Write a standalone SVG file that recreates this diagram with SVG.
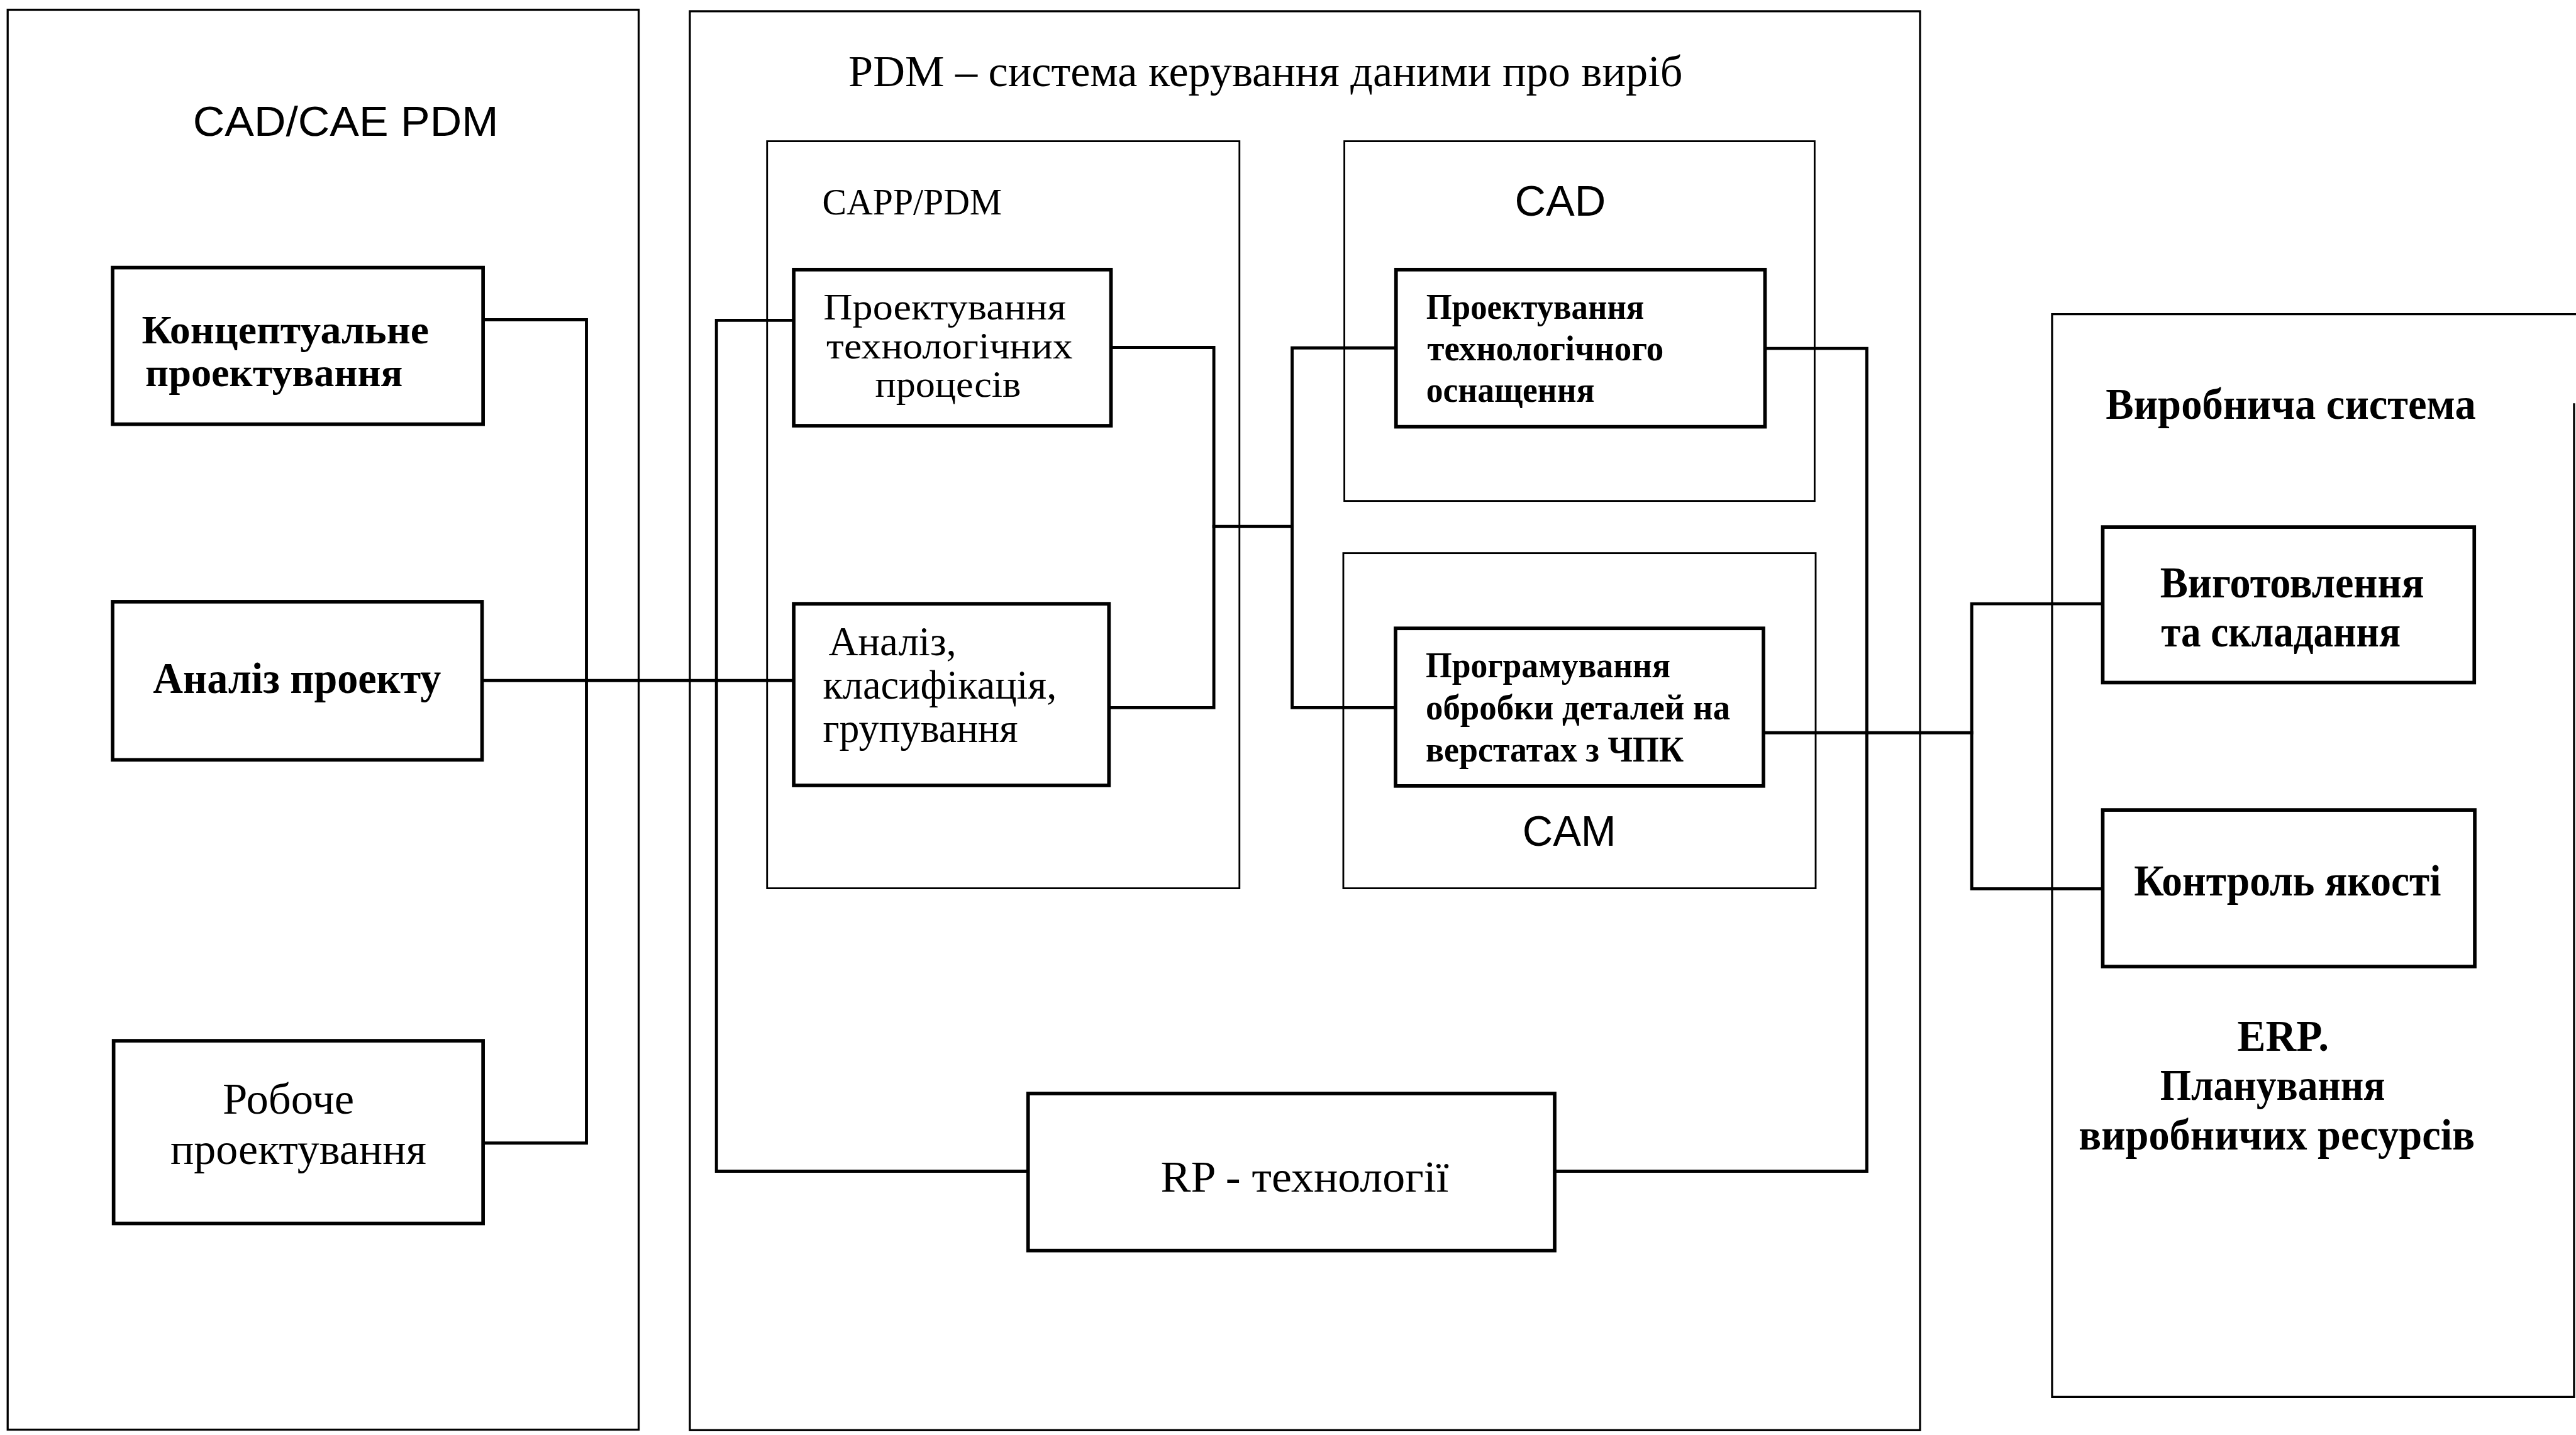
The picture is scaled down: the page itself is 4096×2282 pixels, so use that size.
<svg xmlns="http://www.w3.org/2000/svg" width="4096" height="2282" viewBox="0 0 4096 2282">
<style>
.frame{fill:none;stroke:#000;stroke-width:4}
.sub{fill:none;stroke:#000;stroke-width:3.5}
.node{fill:#fff;stroke:#000;stroke-width:7}
.conn{fill:none;stroke:#000;stroke-width:6;stroke-linejoin:miter;stroke-linecap:square}
.t{font-family:"Liberation Serif","Times New Roman",serif;fill:#000}
.b{font-weight:bold}
.s{font-family:"Liberation Sans",Arial,sans-serif;fill:#000}
</style>
<rect width="4096" height="2282" fill="#fff"/>
<g transform="scale(0.8137)">
  <g id="frame-cad-cae">
    <rect class="frame" x="15" y="19" width="1233" height="2775"/>
    <text class="s" font-size="82" x="377" y="265" textLength="597" lengthAdjust="spacingAndGlyphs">CAD/CAE PDM</text>
  </g>
  <g id="frame-pdm">
    <rect class="frame" x="1348" y="22" width="2404" height="2773"/>
    <text class="t" font-size="86" x="1658" y="169" textLength="1630" lengthAdjust="spacingAndGlyphs">PDM – система керування даними про виріб</text>
  </g>
  <g id="frame-capp">
    <rect class="sub" x="1499" y="276" width="923" height="1460"/>
    <text class="t" font-size="72" x="1607" y="419" textLength="351" lengthAdjust="spacingAndGlyphs">CAPP/PDM</text>
  </g>
  <g id="frame-cad">
    <rect class="sub" x="2627" y="276" width="919" height="703"/>
    <text class="s" font-size="84" x="2960" y="422" textLength="178" lengthAdjust="spacingAndGlyphs">CAD</text>
  </g>
  <g id="frame-cam">
    <rect class="sub" x="2625" y="1081" width="923" height="655"/>
    <text class="s" font-size="84" x="2975" y="1653" textLength="183" lengthAdjust="spacingAndGlyphs">CAM</text>
  </g>
  <g id="frame-production">
    <path class="frame" d="M5034 614 H4010 V2730 H5030 V788"/>
    <text class="t b" font-size="85" x="4115" y="818" textLength="723" lengthAdjust="spacingAndGlyphs">Виробнича система</text>
    <text class="t b" font-size="85" x="4372" y="2053" textLength="179" lengthAdjust="spacingAndGlyphs">ERP.</text>
    <text class="t b" font-size="85" x="4221" y="2149" textLength="440" lengthAdjust="spacingAndGlyphs">Планування</text>
    <text class="t b" font-size="85" x="4062" y="2247" textLength="774" lengthAdjust="spacingAndGlyphs">виробничих ресурсів</text>
  </g>

  <g id="connectors">
    <path class="conn" d="M944 625 H1146 V2234 H944"/>
    <path class="conn" d="M942 1330 H1551"/>
    <path class="conn" d="M1551 626 H1400 V2289 H2009"/>
    <path class="conn" d="M2171 679 H2372 V1383 H2167"/>
    <path class="conn" d="M2372 1029 H2525"/>
    <path class="conn" d="M2728 680 H2525 V1383 H2727"/>
    <path class="conn" d="M3449 681 H3648 V2289 H3038"/>
    <path class="conn" d="M3446 1432 H3853"/>
    <path class="conn" d="M4109 1180 H3853 V1737 H4109"/>
  </g>

  <g id="node-conceptual">
    <rect class="node" x="220" y="523" width="724" height="306"/>
    <text class="t b" font-size="78" x="277" y="671" textLength="561" lengthAdjust="spacingAndGlyphs">Концептуальне</text>
    <text class="t b" font-size="78" x="284" y="755" textLength="503" lengthAdjust="spacingAndGlyphs">проектування</text>
  </g>
  <g id="node-analysis">
    <rect class="node" x="220" y="1176" width="722" height="309"/>
    <text class="t b" font-size="86" x="299" y="1354" textLength="563" lengthAdjust="spacingAndGlyphs">Аналіз проекту</text>
  </g>
  <g id="node-working">
    <rect class="node" x="222" y="2034" width="722" height="357"/>
    <text class="t" font-size="86" x="435" y="2176" textLength="257" lengthAdjust="spacingAndGlyphs">Робоче</text>
    <text class="t" font-size="86" x="333" y="2275" textLength="500" lengthAdjust="spacingAndGlyphs">проектування</text>
  </g>
  <g id="node-process-design">
    <rect class="node" x="1551" y="527" width="620" height="305"/>
    <text class="t" font-size="72" x="1609" y="624" textLength="474" lengthAdjust="spacingAndGlyphs">Проектування</text>
    <text class="t" font-size="72" x="1615" y="700" textLength="481" lengthAdjust="spacingAndGlyphs">технологічних</text>
    <text class="t" font-size="72" x="1710" y="776" textLength="285" lengthAdjust="spacingAndGlyphs">процесів</text>
  </g>
  <g id="node-classification">
    <rect class="node" x="1551" y="1180" width="616" height="355"/>
    <text class="t" font-size="80" x="1619" y="1280" textLength="250" lengthAdjust="spacingAndGlyphs">Аналіз,</text>
    <text class="t" font-size="80" x="1608" y="1365" textLength="457" lengthAdjust="spacingAndGlyphs">класифікація,</text>
    <text class="t" font-size="80" x="1608" y="1450" textLength="381" lengthAdjust="spacingAndGlyphs">групування</text>
  </g>
  <g id="node-tooling">
    <rect class="node" x="2728" y="527" width="721" height="307"/>
    <text class="t b" font-size="71" x="2787" y="623" textLength="426" lengthAdjust="spacingAndGlyphs">Проектування</text>
    <text class="t b" font-size="71" x="2789" y="704" textLength="462" lengthAdjust="spacingAndGlyphs">технологічного</text>
    <text class="t b" font-size="71" x="2787" y="785" textLength="329" lengthAdjust="spacingAndGlyphs">оснащення</text>
  </g>
  <g id="node-cnc">
    <rect class="node" x="2727" y="1228" width="719" height="308"/>
    <text class="t b" font-size="70" x="2786" y="1324" textLength="478" lengthAdjust="spacingAndGlyphs">Програмування</text>
    <text class="t b" font-size="70" x="2786" y="1406" textLength="595" lengthAdjust="spacingAndGlyphs">обробки деталей на</text>
    <text class="t b" font-size="70" x="2786" y="1488" textLength="504" lengthAdjust="spacingAndGlyphs">верстатах з ЧПК</text>
  </g>
  <g id="node-rp">
    <rect class="node" x="2009" y="2137" width="1029" height="307"/>
    <text class="t" font-size="86" x="2268" y="2329" textLength="563" lengthAdjust="spacingAndGlyphs">RP - технології</text>
  </g>
  <g id="node-manufacturing">
    <rect class="node" x="4109" y="1030" width="726" height="304"/>
    <text class="t b" font-size="85" x="4221" y="1167" textLength="516" lengthAdjust="spacingAndGlyphs">Виготовлення</text>
    <text class="t b" font-size="85" x="4223" y="1263" textLength="468" lengthAdjust="spacingAndGlyphs">та складання</text>
  </g>
  <g id="node-quality">
    <rect class="node" x="4109" y="1583" width="727" height="306"/>
    <text class="t b" font-size="85" x="4170" y="1750" textLength="600" lengthAdjust="spacingAndGlyphs">Контроль якості</text>
  </g>
</g>
</svg>
